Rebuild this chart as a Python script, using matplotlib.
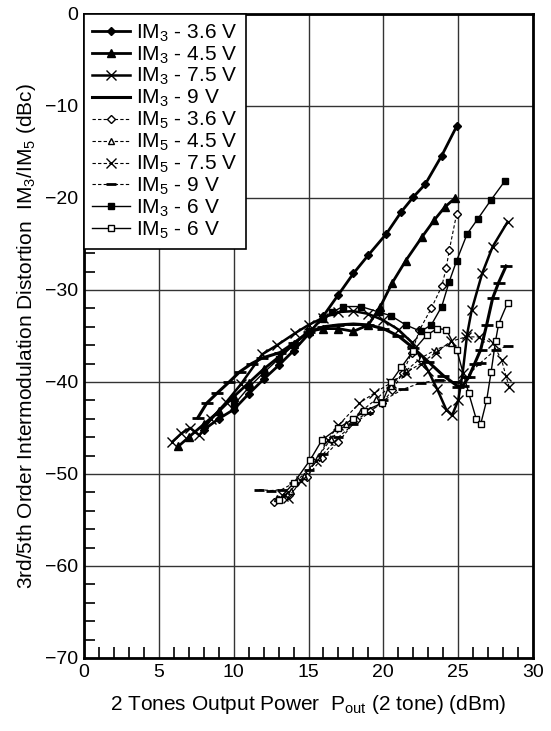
#!/usr/bin/env python3
# -*- coding: utf-8 -*-

import matplotlib
matplotlib.use("Agg")
import matplotlib.pyplot as plt
from matplotlib.ticker import MultipleLocator

plt.rcParams["font.family"] = ["Liberation Sans", "DejaVu Sans"]
plt.rcParams["mathtext.default"] = "regular"
plt.rcParams["axes.unicode_minus"] = True

# ====== DATA ======
im3_36_x = [8, 9, 10, 11, 12, 13, 14, 15, 16, 17, 18, 19, 20.2, 21.2, 22, 22.8, 23.9, 24.9]
im3_36_y = [-45.2, -44, -43, -41.3, -39.7, -38.2, -36.6, -34.8, -32.8, -30.5, -28.2, -26.2,
            -23.9, -21.5, -19.9, -18.5, -15.4, -12.2]

im3_45_x = [6.3, 7, 8, 9, 10, 11, 12, 13, 14, 15, 16, 17, 18, 19, 19.8, 20.6, 21.5, 22.6, 23.4,
            24.1, 24.8]
im3_45_y = [-47, -46, -44.6, -43.2, -41.6, -40.1, -38.6, -37.3, -35.9, -34.5, -34.2, -34.2,
            -34.5, -33.8, -31.8, -29.2, -26.8, -24.2, -22.4, -21, -20]

im3_75_x = [5.9, 6.5, 7.1, 7.7, 8.5, 9.5, 10.5, 11.9, 12.9, 14.1, 15, 16, 17, 18, 19, 20, 21,
            21.9, 23, 23.6, 24.2, 24.6, 25, 25.3, 25.6, 25.9, 26.6, 27.3, 28.3]
im3_75_y = [-46.5, -45.6, -45, -45.8, -44, -42.2, -40.2, -37, -36, -34.7, -33.8, -33, -32.4,
            -32.3, -32.6, -33.3, -34.3, -35.7, -38.8, -40.8, -43, -43.6, -42, -39, -34.8,
            -32.2, -28.2, -25.3, -22.6]

im3_9_x = [7.6, 8.2, 8.9, 9.7, 10.4, 11.2, 11.9, 13.1, 14, 15, 16, 17, 18, 19, 20, 21, 22, 23,
           24, 25, 25.3, 25.7, 26.1, 26.5, 26.9, 27.3, 27.7, 28.2]
im3_9_y = [-43.9, -42.3, -41.2, -40, -38.9, -38, -37.4, -36.8, -35.8, -34.6, -34, -33.8, -33.7,
           -33.8, -34.2, -35, -36.3, -37.8, -39.3, -40.5, -40.4, -39.5, -38, -36.5, -33.8,
           -30.9, -29.2, -27.4]

im5_36_x = [12.7, 13.7, 14.9, 15.9, 17, 18.2, 19.1, 19.9, 20.6, 21.3, 21.9, 22.4, 23.2, 23.9,
            24.2, 24.4, 24.9]
im5_36_y = [-53, -52.3, -50.3, -48.3, -46.5, -44.1, -43.2, -42.3, -40.9, -39, -36.8, -34.4,
            -32, -29.6, -27.6, -25.7, -21.7]

im5_45_x = [12.9, 13.8, 14.7, 15.6, 16.5, 17.5, 18.5, 19.5, 20.5, 21.5, 22.5, 23.5, 24.5]
im5_45_y = [-52.6, -51.8, -50.2, -48.2, -46.2, -44.6, -43.2, -41.9, -40.4, -38.8, -37.4,
            -36.5, -35.8]

im5_75_x = [13.3, 13.6, 14.5, 15.5, 16.3, 17, 18.4, 19.4, 20.5, 21.5, 22.5, 23.5, 24.5, 25.5,
            26.4, 27.3, 27.9, 28.2, 28.4]
im5_75_y = [-52.4, -52.6, -50.8, -48.6, -46.3, -44.7, -42.3, -41.2, -40.1, -39, -38, -36.8,
            -35.6, -35.1, -35.1, -35.8, -37.6, -39.4, -40.5]

im5_9_x = [11.7, 12.5, 13.2, 14, 15, 16, 17, 18, 19, 20, 21.3, 22.5, 23.7, 24.9, 25.5, 26.5,
           27.5, 28.3]
im5_9_y = [-51.7, -51.8, -51.7, -51, -49.6, -47.8, -46, -44.6, -43.4, -42, -40.8, -40.1, -39.8,
           -40, -39.5, -37.9, -36.5, -36.1]

im3_6_x = [10, 11, 12, 13, 14, 15, 16, 16.6, 17.3, 18.5, 19.7, 20.5, 21.5, 22.5, 23.2, 23.9,
           24.4, 24.9, 25.6, 26.3, 27.2, 28.1]
im3_6_y = [-42.5, -40.6, -39, -37.5, -36, -34.5, -33.2, -32.4, -31.8, -31.8, -32.4, -32.8,
           -33.8, -34.5, -33.8, -31.8, -29.1, -26.8, -23.9, -22.3, -20.2, -18.2]

im5_6_x = [13, 14, 15.1, 15.9, 17, 18, 18.7, 19.9, 20.5, 21.2, 22, 22.9, 23.6, 24.2, 24.9,
           25.7, 26.2, 26.5, 26.9, 27.2, 27.5, 27.7, 28.3]
im5_6_y = [-52.8, -51, -48.5, -46.3, -45, -44, -43.2, -42.3, -40, -38.4, -36.6, -34.9, -34.2,
           -34.3, -36.5, -41.2, -44, -44.6, -42, -38.9, -35.5, -33.7, -31.4]

x_ticks = [0, 5, 10, 15, 20, 25, 30]
y_ticks = [-70, -60, -50, -40, -30, -20, -10, 0]

# (label, x, y, marker, facecolor, linewidth, linestyle, markersize)
series = [
    ("IM$_3$ - 3.6 V", im3_36_x, im3_36_y, "D", "black", 2.0, "-", 4.5),
    ("IM$_3$ - 4.5 V", im3_45_x, im3_45_y, "^", "black", 2.0, "-", 6),
    ("IM$_3$ - 7.5 V", im3_75_x, im3_75_y, "x", "black", 1.8, "-", 7),
    ("IM$_3$ - 9 V", im3_9_x, im3_9_y, "_", "black", 2.2, "-", 8),
    ("IM$_5$ - 3.6 V", im5_36_x, im5_36_y, "D", "white", 0.8, (0, (3, 2)), 4),
    ("IM$_5$ - 4.5 V", im5_45_x, im5_45_y, "^", "white", 0.8, (0, (3, 2)), 5),
    ("IM$_5$ - 7.5 V", im5_75_x, im5_75_y, "x", "black", 0.8, (0, (3, 2)), 7),
    ("IM$_5$ - 9 V", im5_9_x, im5_9_y, "_", "black", 0.8, (0, (3, 2)), 7),
    ("IM$_3$ - 6 V", im3_6_x, im3_6_y, "s", "black", 1.0, "-", 4.5),
    ("IM$_5$ - 6 V", im5_6_x, im5_6_y, "s", "white", 1.0, "-", 4.5),
]

fig = plt.figure(figsize=(5.51, 7.31), dpi=100)
ax = fig.add_axes([0.1525, 0.0999, 0.8149, 0.881])

for label, xs, ys, mk, fc, lw, ls, ms in series:
    mew = 2.0 if mk == "_" else 1.0
    ax.plot(xs, ys, color="black", lw=lw, linestyle=ls, marker=mk, markersize=ms,
            markerfacecolor=fc, markeredgecolor="black", markeredgewidth=mew, label=label)

ax.set_xlim(0, 30)
ax.set_ylim(-70, 0)
ax.set_xticks(x_ticks)
ax.set_yticks(y_ticks)
ax.xaxis.set_minor_locator(MultipleLocator(1))
ax.yaxis.set_minor_locator(MultipleLocator(2))
ax.tick_params(which="major", length=0, labelsize=14, pad=4)
ax.tick_params(which="minor", direction="in", length=8, width=1.2, color="black")
ax.grid(True, which="major", color="#333333", lw=1.0)
for sp in ax.spines.values():
    sp.set_linewidth(2.0)

ax.set_xlabel("2 Tones Output Power  P$_{out}$ (2 tone) (dBm)", fontsize=15, labelpad=9)
ax.set_ylabel("3rd/5th Order Intermodulation Distortion  IM$_3$/IM$_5$ (dBc)", fontsize=15,
              labelpad=5)

leg = ax.legend(loc="upper left", fontsize=15, frameon=True, fancybox=False,
                borderaxespad=0, handlelength=1.8, handletextpad=0.3, labelspacing=0.03,
                borderpad=0.4, framealpha=1.0)
leg.get_frame().set_edgecolor("black")
leg.get_frame().set_linewidth(1.2)

fig.savefig("out.png", dpi=100)
